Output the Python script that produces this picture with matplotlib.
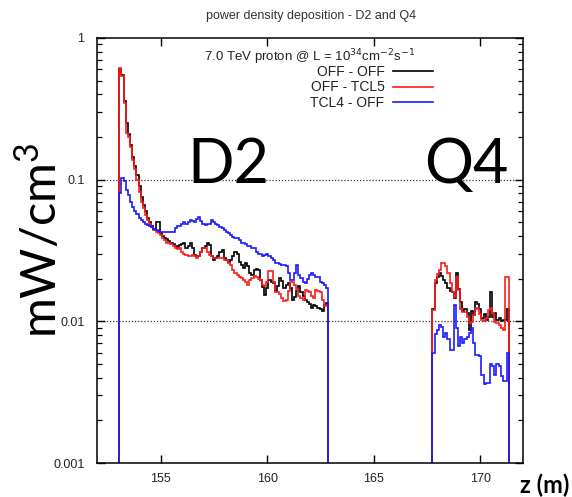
import numpy as np
import matplotlib
matplotlib.use("Agg")
import matplotlib.pyplot as plt
from matplotlib.ticker import LogLocator, NullFormatter, FixedLocator, FixedFormatter
from matplotlib.lines import Line2D

plt.rcParams['mathtext.fontset'] = 'custom'
plt.rcParams['mathtext.rm'] = 'Lato'
plt.rcParams['mathtext.it'] = 'Lato:italic'
plt.rcParams['font.family'] = ['Liberation Sans', 'DejaVu Sans']

# ---------------- data ----------------
series_labels = ["OFF - OFF", "OFF - TCL5", "TCL4 - OFF"]
series_colors = ["#000000", "#ff1a1a", "#1a1aff"]

d2_range = (153.05, 162.85)   # D2 histogram extent (m), 0.1 m bins
q4_range = (167.75, 171.35)   # Q4 histogram extent (m), 0.1 m bins

off_off_d2 = [
    0.60, 0.55, 0.36, 0.25, 0.21, 0.175, 0.145, 0.125, 0.108, 0.09,
    0.076, 0.066, 0.06, 0.054, 0.05, 0.047, 0.045, 0.05, 0.05, 0.042,
    0.04, 0.039, 0.038, 0.037, 0.036, 0.035, 0.034, 0.0335,
    0.0345, 0.035, 0.0356, 0.033, 0.034, 0.0356, 0.033, 0.0295, 0.0288, 0.029,
    0.031, 0.0328, 0.034, 0.0356, 0.0345, 0.029, 0.0272, 0.028, 0.0288, 0.031,
    0.032, 0.028, 0.027, 0.0264, 0.027, 0.0288, 0.031, 0.03, 0.0264, 0.025,
    0.0237, 0.026, 0.0244, 0.022, 0.0213, 0.023,
    0.0235, 0.023, 0.0196, 0.0175, 0.0154, 0.0172, 0.0196, 0.019, 0.0187, 0.0165,
    0.0177, 0.0202, 0.0192, 0.0172, 0.018, 0.0187, 0.0172, 0.0142, 0.0148, 0.0165,
    0.0177, 0.0162, 0.015, 0.0142, 0.0138, 0.0132, 0.0124, 0.013, 0.0128, 0.0124,
    0.0122, 0.0118, 0.013, 0.0134,
]
off_tcl5_d2 = [
    0.61, 0.54, 0.35, 0.213, 0.20, 0.171, 0.138, 0.118, 0.10, 0.082,
    0.07, 0.063, 0.056, 0.052, 0.049, 0.0465, 0.044, 0.043, 0.042, 0.041,
    0.039, 0.0375, 0.036, 0.036, 0.035, 0.034, 0.033, 0.0325,
    0.0328, 0.031, 0.0297, 0.0295, 0.029, 0.0288, 0.0292, 0.029, 0.028, 0.029,
    0.031, 0.0328, 0.0328, 0.031, 0.0295, 0.0288, 0.028, 0.028, 0.028, 0.028,
    0.028, 0.0272, 0.027, 0.0258, 0.025, 0.023, 0.022, 0.0213, 0.0207, 0.0202,
    0.0196, 0.0191, 0.018, 0.0195, 0.0202, 0.021,
    0.0205, 0.0198, 0.0196, 0.018, 0.0177, 0.019, 0.0225, 0.0225, 0.019, 0.0162,
    0.0162, 0.0155, 0.0145, 0.014, 0.0142, 0.0165, 0.019, 0.019, 0.018, 0.0168,
    0.0152, 0.0145, 0.0142, 0.0167, 0.0165, 0.016, 0.0152, 0.0145, 0.0167, 0.0165,
    0.016, 0.0142, 0.0128, 0.013,
]
tcl4_off_d2 = [
    0.08, 0.102, 0.098, 0.084, 0.078, 0.07, 0.0645, 0.06, 0.057, 0.0535,
    0.052, 0.0506, 0.049, 0.048, 0.047, 0.046, 0.045, 0.044, 0.0435, 0.043,
    0.0425, 0.0425, 0.0425, 0.0425, 0.0425, 0.043, 0.0455, 0.047,
    0.047, 0.049, 0.0505, 0.049, 0.0505, 0.052, 0.051, 0.0505, 0.053, 0.0548,
    0.051, 0.049, 0.048, 0.049, 0.049, 0.0515, 0.05, 0.049, 0.048, 0.046,
    0.0456, 0.044, 0.043, 0.042, 0.041, 0.0397, 0.039, 0.0385, 0.0377, 0.036,
    0.0356, 0.035, 0.034, 0.034, 0.033, 0.0328,
    0.031, 0.0301, 0.030, 0.0287, 0.0295, 0.0301, 0.0287, 0.028, 0.0272, 0.026,
    0.0258, 0.0255, 0.025, 0.0248, 0.0245, 0.0218, 0.0196, 0.0196, 0.0218, 0.025,
    0.0212, 0.0202, 0.019, 0.0187, 0.02, 0.0212, 0.0218, 0.0212, 0.0207, 0.0207,
    0.0191, 0.0185, 0.018, 0.0172,
]

off_off_q4 = [
    0.0122, 0.0187, 0.0205, 0.0218, 0.021, 0.0196, 0.0187, 0.0172, 0.0165, 0.016,
    0.0145, 0.0218, 0.017, 0.0138, 0.0118, 0.0122, 0.0114, 0.0087, 0.0118, 0.011,
    0.0138, 0.0132, 0.0122, 0.0106, 0.0112, 0.0102, 0.0108, 0.016, 0.0108, 0.0114,
    0.0102, 0.0105, 0.01, 0.0102, 0.0102, 0.0122,
]
off_tcl5_q4 = [
    0.012, 0.0195, 0.0215, 0.023, 0.0258, 0.026, 0.0245, 0.0218, 0.0187, 0.016,
    0.0148, 0.0205, 0.0167, 0.0122, 0.0116, 0.0116, 0.0108, 0.0097, 0.0099, 0.011,
    0.0122, 0.0124, 0.0112, 0.0102, 0.01, 0.0105, 0.012, 0.0124, 0.0114, 0.0099,
    0.0097, 0.0094, 0.009, 0.0087, 0.0207, 0.0205,
]
tcl4_off_q4 = [
    0.006, 0.0081, 0.0087, 0.0094, 0.0091, 0.0078, 0.0083, 0.0075, 0.0063, 0.0063,
    0.0131, 0.009, 0.0067, 0.0078, 0.007, 0.0075, 0.0078, 0.0083, 0.009, 0.007,
    0.0058, 0.0058, 0.0057, 0.0042, 0.0036, 0.0037, 0.0037, 0.005, 0.0048, 0.0042,
    0.005, 0.0048, 0.0041, 0.0038, 0.0038, 0.006,
]

x_ticks = [155, 160, 165, 170]
y_ticks = [0.001, 0.01, 0.1, 1]
y_tick_labels = ["0.001", "0.01", "0.1", "1"]

# ---------------- figure ----------------
W, H = 572, 497
fig = plt.figure(figsize=(W / 100, H / 100), dpi=100)
ax = fig.add_axes([97 / W, (H - 463) / H, 426 / W, 425 / H])

ax.set_yscale('log')
ax.set_xlim(152, 172)
ax.set_ylim(0.001, 1)

d2_series = [off_off_d2, off_tcl5_d2, tcl4_off_d2]
q4_series = [off_off_q4, off_tcl5_q4, tcl4_off_q4]
for vals_d2, vals_q4, col in zip(d2_series, q4_series, series_colors):
    e_d2 = np.linspace(d2_range[0], d2_range[1], len(vals_d2) + 1)
    e_q4 = np.linspace(q4_range[0], q4_range[1], len(vals_q4) + 1)
    ax.stairs(vals_d2, e_d2, baseline=1e-6, color=col, lw=1.2)
    ax.stairs(vals_q4, e_q4, baseline=1e-6, color=col, lw=1.2)

for gv in [0.1, 0.01]:
    ax.axhline(gv, color='#333333', lw=0.9, ls=(0, (1, 1.5)), zorder=0)

ax.xaxis.set_major_locator(FixedLocator(x_ticks))
ax.set_xticklabels([str(t) for t in x_ticks])
ax.yaxis.set_major_locator(FixedLocator(y_ticks))
ax.yaxis.set_major_formatter(FixedFormatter(y_tick_labels))
ax.yaxis.set_minor_locator(LogLocator(base=10, subs=np.arange(2, 10), numticks=20))
ax.yaxis.set_minor_formatter(NullFormatter())
ax.tick_params(axis='both', which='major', direction='in', length=6, width=1,
               top=True, right=True, labelsize=9, colors='black')
ax.tick_params(axis='y', which='minor', direction='in', length=3.5, width=0.9,
               left=True, right=True)
ax.tick_params(axis='y', which='major', pad=9)
ax.tick_params(axis='x', which='major', pad=7)
for lbl in ax.get_xticklabels() + ax.get_yticklabels():
    lbl.set_color('#222222')
for s in ax.spines.values():
    s.set_linewidth(1.1)

# legend
handles = [Line2D([0], [0], color=c, lw=1.2) for c in series_colors]
leg = ax.legend(handles, series_labels, loc='upper right',
                bbox_to_anchor=((433 - 97) / 426, (463 - 65) / 425),
                frameon=False, markerfirst=False, fontsize=10,
                handlelength=2.9, handletextpad=0.6, labelspacing=0.1,
                borderpad=0, borderaxespad=0)
for t in leg.get_texts():
    t.set_color('#222222')
ax.text(0.5, (463 - 61) / 425,
        "7.0 TeV proton @ L = 10$^{34}$cm$^{-2}$s$^{-1}$",
        transform=ax.transAxes, ha='center', va='baseline', fontsize=9.5,
        math_fontfamily='dejavusans', color='#222222')

# magnet labels
ax.text((228 - 97) / 426, (463 - 183) / 425, "D2", transform=ax.transAxes,
        ha='center', va='baseline', fontsize=44, family='Lato')
ax.text((466 - 97) / 426, (463 - 183) / 425, "Q4", transform=ax.transAxes,
        ha='center', va='baseline', fontsize=44, family='Lato')

# titles and axis labels
fig.text(311 / W, 1 - 16 / H, "power density deposition - D2 and Q4",
         ha='center', va='center', fontsize=9, color='#333333')
fig.text(57 / W, 1 - 240 / H, "mW/cm$^{3}$", rotation=90, rotation_mode='anchor',
         ha='center', va='baseline', fontsize=35, family='Lato',
         math_fontfamily='custom')
fig.text(545 / W, 1 - 485 / H, "z (m)", ha='center', va='center',
         fontsize=17, family='Lato', weight='bold')

fig.savefig("out.png", dpi=100)
